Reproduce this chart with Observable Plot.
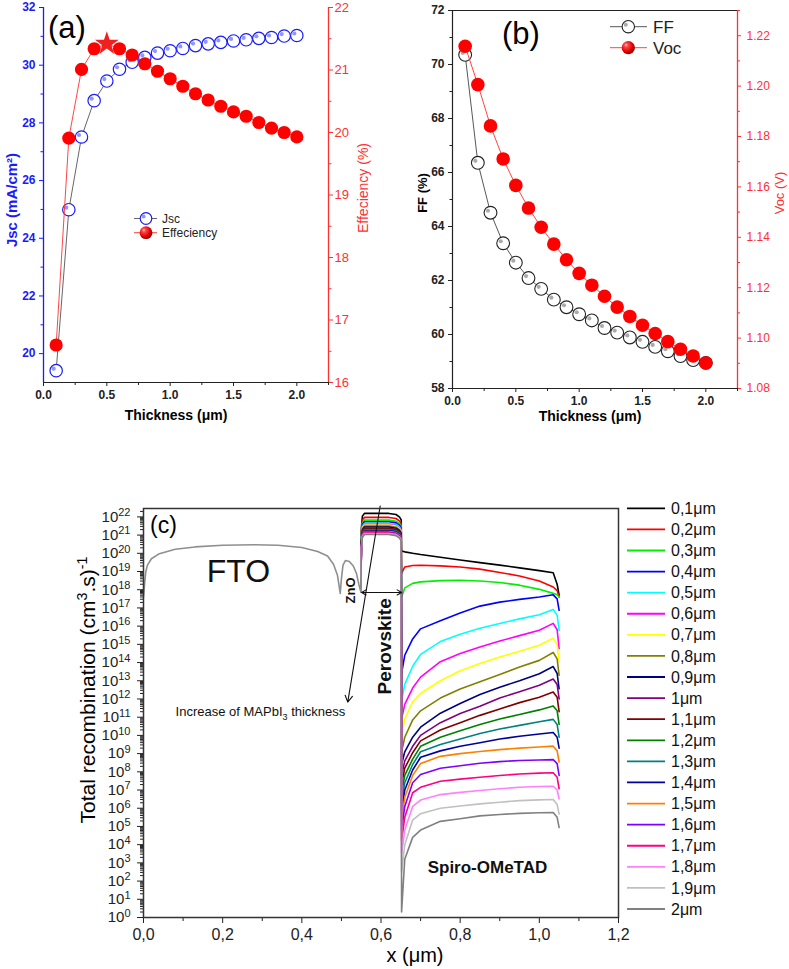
<!DOCTYPE html>
<html><head><meta charset="utf-8">
<script src="https://cdn.jsdelivr.net/npm/d3@7"></script>
<script src="https://cdn.jsdelivr.net/npm/@observablehq/plot@0.6"></script>
<style>
html,body{margin:0;padding:0;background:#fff;overflow:hidden;}
#root{position:relative;width:789px;height:969px;overflow:hidden;background:#fff;}
#root > svg{position:absolute;}
</style></head>
<body>
<svg width="0" height="0" style="position:absolute;left:0;top:0">
<defs>
<radialGradient id="redBall" cx="0.4" cy="0.38" r="0.62" fx="0.32" fy="0.28">
<stop offset="0" stop-color="#ffd6d6"/>
<stop offset="0.22" stop-color="#ff4a4a"/>
<stop offset="0.7" stop-color="#e80000"/>
<stop offset="1" stop-color="#8a0000"/>
</radialGradient>
</defs>
</svg>
<div id="root"></div>
<script>
const FONT = '"Liberation Sans", Arial, Helvetica, sans-serif';
const BLUE = "#1a1aff";
const RED = "#ff3030";

// ---------- Panel (a) / (b) data ----------
const thickness = [0.1,0.2,0.3,0.4,0.5,0.6,0.7,0.8,0.9,1.0,1.1,1.2,1.3,1.4,1.5,1.6,1.7,1.8,1.9,2.0];
const jsc = [19.41,24.99,27.51,28.77,29.45,29.86,30.10,30.27,30.42,30.50,30.58,30.68,30.74,30.79,30.84,30.88,30.93,30.96,31.01,31.03];
const efficiency = [16.60,19.91,21.01,21.34,21.42,21.34,21.24,21.10,20.98,20.86,20.74,20.62,20.52,20.42,20.33,20.26,20.16,20.07,20.00,19.93];
const ff = [70.36,66.36,64.51,63.38,62.66,62.09,61.69,61.29,61.01,60.75,60.52,60.24,60.07,59.89,59.73,59.54,59.38,59.20,59.05,58.95];
const voc = [1.2158,1.2006,1.1842,1.1711,1.1606,1.1516,1.1440,1.1373,1.1311,1.1257,1.1210,1.1166,1.1123,1.1086,1.1051,1.1018,1.0986,1.0956,1.0929,1.0901];

const thicknessTicks = [0,0.5,1,1.5,2];
const thicknessMinor = [0.25,0.75,1.25,1.75,2.25];
const jscTicks = [20,22,24,26,28,30,32];
const jscMinor = [21,23,25,27,29,31];
const effTicks = [16,17,18,19,20,21,22];
const effMinor = [16.5,17.5,18.5,19.5,20.5,21.5];
const ffTicks = [58,60,62,64,66,68,70,72];
const ffMinor = [59,61,63,65,67,69,71];
const vocTicks = [1.08,1.10,1.12,1.14,1.16,1.18,1.20,1.22];
const vocMinor = [1.09,1.11,1.13,1.15,1.17,1.19,1.21,1.23];

// ---------- Panel (c) data ----------
const thicknessLabels = ["0,1μm","0,2μm","0,3μm","0,4μm","0,5μm","0,6μm","0,7μm","0,8μm","0,9μm","1μm","1,1μm","1,2μm","1,3μm","1,4μm","1,5μm","1,6μm","1,7μm","1,8μm","1,9μm","2μm"];
const curveColors = ["#000000","#ff0000","#00ee00","#0000ff","#00ffff","#ff00ff","#ffff00","#808000","#000080","#800080","#800000","#008000","#008080","#0000a0","#ff8000","#8000ff","#ff0080","#ff80ff","#c0c0c0","#808080"];
// log10 level of perovskite block top
const blockLevel = [22.19,21.97,21.82,21.73,21.64,21.58,21.55,21.49,21.44,21.38,21.35,21.31,21.27,21.24,21.20,21.16,21.13,21.09,21.05,21.03];
const blockX = [0.549,0.5505,0.553,0.558,0.62,0.638,0.647,0.651];
const blockOffset = [null,-0.8,-0.15,0,0,-0.06,-0.2,-0.35];
const blockBase = 17.88;
// Spiro-OMeTAD region, log10 values
const spiroX = [0.652,0.66,0.68,0.70,0.75,0.80,0.85,0.90,0.95,1.00,1.035,1.045,1.05];
const spiroLog = [
  [20.12,20.08,20.00,19.93,19.78,19.63,19.49,19.35,19.20,19.05,18.93,18.30,17.70],
  [18.90,19.25,19.33,19.34,19.31,19.25,19.13,18.95,18.75,18.48,18.15,17.95,17.60],
  [17.60,18.10,18.35,18.43,18.50,18.52,18.48,18.40,18.25,18.02,17.80,17.72,17.60],
  [13.40,14.40,15.30,15.85,16.30,16.72,17.10,17.32,17.47,17.60,17.72,17.50,16.87],
  [11.90,12.80,13.80,14.45,15.15,15.55,15.88,16.15,16.40,16.63,16.92,16.60,15.77],
  [10.90,11.70,12.60,13.20,14.05,14.50,14.85,15.18,15.48,15.77,16.15,15.80,14.76],
  [10.00,10.90,11.85,12.30,13.00,13.55,13.95,14.30,14.62,14.95,15.33,15.00,14.03],
  [9.10,9.90,10.85,11.35,12.05,12.55,12.95,13.35,13.75,14.12,14.55,14.20,13.30],
  [8.40,9.10,9.90,10.45,11.22,11.75,12.25,12.65,13.00,13.39,13.78,13.40,12.56],
  [7.80,8.60,9.40,10.00,10.70,11.20,11.60,12.05,12.40,12.75,13.10,12.80,12.00],
  [7.30,8.20,9.05,9.70,10.30,10.70,11.10,11.45,11.80,12.10,12.38,12.10,11.30],
  [6.80,7.80,8.70,9.40,9.90,10.25,10.60,10.90,11.15,11.40,11.62,11.35,10.60],
  [6.30,7.40,8.40,9.10,9.50,9.80,10.10,10.35,10.55,10.75,10.88,10.60,9.90],
  [5.80,7.00,8.10,8.80,9.15,9.40,9.60,9.80,9.95,10.08,10.16,9.90,9.30],
  [5.30,6.60,7.80,8.45,8.85,9.00,9.12,9.22,9.30,9.36,9.41,9.15,8.54],
  [4.80,6.10,7.40,7.85,8.20,8.33,8.47,8.56,8.62,8.65,8.67,8.45,7.80],
  [4.20,5.50,6.85,7.15,7.48,7.60,7.70,7.80,7.88,7.93,7.95,7.70,7.07],
  [3.50,4.80,6.10,6.45,6.75,6.87,6.97,7.07,7.15,7.19,7.21,7.00,6.51],
  [2.50,4.00,5.35,5.70,6.00,6.12,6.24,6.33,6.42,6.46,6.48,6.20,5.68],
  [0.30,3.20,4.40,4.80,5.28,5.42,5.58,5.66,5.72,5.75,5.77,5.50,4.94]
];
// FTO + ZnO region (shared by all curves)
const ftoX = [0.000,0.003,0.006,0.010,0.020,0.040,0.080,0.130,0.200,0.280,0.340,0.400,0.440,0.465,0.480,0.490,0.497,0.500,0.504,0.510,0.520,0.530,0.538,0.544,0.549];
const ftoLog = [17.60,18.40,19.00,19.35,19.70,19.98,20.22,20.35,20.44,20.47,20.44,20.32,20.10,19.85,19.40,18.80,17.80,18.60,19.35,19.60,19.55,19.30,18.90,18.30,17.88];
const xTicksC = [0,0.2,0.4,0.6,0.8,1.0,1.2];
const xMinorC = [0.1,0.3,0.5,0.7,0.9,1.1];

const root = document.getElementById("root");

function place(svg, left, top) {
  svg.style.left = left + "px";
  svg.style.top = top + "px";
  root.appendChild(svg);
  return svg;
}
// text with optional superscripts
function addLabel(svg, x, y, parts, o = {}) {
  const size = o.size || 14;
  const t = d3.select(svg).append("text")
    .attr("transform", `translate(${x},${y}) rotate(${o.rotate || 0})`)
    .attr("text-anchor", o.anchor || "middle")
    .attr("font-family", FONT)
    .attr("font-size", size)
    .attr("font-weight", o.weight || "normal")
    .attr("fill", o.fill || "#000")
    .attr("dy", "0.35em");
  let raised = false;
  for (const p of (typeof parts === "string" ? [parts] : parts)) {
    if (typeof p === "string") {
      const s = t.append("tspan").text(p);
      if (raised) { s.attr("dy", (0.42 * size) + "px"); raised = false; }
    } else {
      t.append("tspan").attr("dy", (-0.42 * size) + "px").attr("font-size", 0.68 * size).text(p.sup);
      raised = true;
    }
  }
  return t;
}
function sphereFill(svg) {
  d3.select(svg).selectAll('g[aria-label="sphere"]').attr("fill", "url(#redBall)");
  d3.select(svg).selectAll('g[aria-label="sphere"] circle').attr("fill", "url(#redBall)");
}

// ================= Panel (a) =================
const rowsA = thickness.map((t, i) => ({t, jsc: jsc[i], eff: efficiency[i], best: efficiency[i] === d3.max(efficiency)}));
const dimA = {width: 390, height: 430, marginLeft: 43, marginRight: 62, marginTop: 7, marginBottom: 48,
  style: {fontFamily: FONT, background: "transparent", overflow: "visible"}};

const pA1 = Plot.plot({
  ...dimA,
  x: {domain: [0, 2.25]},
  y: {domain: [19, 32]},
  marks: [
    Plot.axisX({ticks: thicknessTicks, tickSize: 4, tickPadding: 4, fontSize: 12, fontWeight: "bold", tickFormat: d => d.toFixed(1), label: null, color: "#222"}),
    Plot.axisX({ticks: thicknessMinor, tickSize: 3, tickFormat: () => "", label: null, color: "#222"}),
    Plot.axisY({ticks: jscTicks, tickSize: 4, tickPadding: 4, fontSize: 12, fontWeight: "bold", tickFormat: d => d.toFixed(0), label: null, color: BLUE}),
    Plot.axisY({ticks: jscMinor, tickSize: 2.5, tickFormat: () => "", label: null, color: BLUE}),
    Plot.ruleY([19], {stroke: "#222", strokeWidth: 1.2}),
    Plot.ruleX([0], {stroke: BLUE, strokeWidth: 1.3}),
    Plot.line(rowsA, {x: "t", y: "jsc", stroke: "#555", strokeWidth: 0.9}),
    Plot.dot(rowsA, {x: "t", y: "jsc", r: 6.2, stroke: BLUE, strokeWidth: 1.2, fill: "white"}),
    Plot.dot(rowsA, {x: "t", y: "jsc", r: 2.1, fill: "#8f96ff", dx: -2.5, dy: -2})
  ]
});
place(pA1, 0, 0);

const pA2 = Plot.plot({
  ...dimA,
  x: {domain: [0, 2.25], axis: null},
  y: {domain: [16, 22]},
  marks: [
    Plot.axisY({anchor: "right", ticks: effTicks, tickSize: 4, tickPadding: 2, fontSize: 13, tickFormat: d => d.toFixed(0), label: null, color: RED}),
    Plot.axisY({anchor: "right", ticks: effMinor, tickSize: 2.5, tickFormat: () => "", label: null, color: RED}),
    Plot.ruleX([2.25], {stroke: RED, strokeWidth: 1.3}),
    Plot.line(rowsA, {x: "t", y: "eff", stroke: RED, strokeWidth: 0.9}),
    Plot.dot(rowsA.filter(d => !d.best), {x: "t", y: "eff", r: 6.6, fill: "#ff0000", ariaLabel: "sphere"}),
    Plot.dot(rowsA.filter(d => d.best), {x: "t", y: "eff", r: 7.5, symbol: "star", fill: "#f02020"})
  ]
});
place(pA2, 0, 0);
sphereFill(pA2);
// labels & legend (a)
addLabel(pA2, 48, 27, "(a)", {size: 31, anchor: "start"});
addLabel(pA2, 12, 200, "Jsc (mA/cm²)", {size: 15, weight: "bold", fill: BLUE, rotate: -90});
addLabel(pA2, 363, 188, "Effeciency (%)", {size: 14, fill: RED, rotate: -90});
addLabel(pA2, 176, 415, "Thickness (μm)", {size: 14, weight: "bold"});
{
  const g = d3.select(pA2).append("g");
  g.append("line").attr("x1", 134).attr("x2", 157).attr("y1", 218.5).attr("y2", 218.5).attr("stroke", "#555").attr("stroke-width", 0.9);
  g.append("circle").attr("cx", 146).attr("cy", 218.5).attr("r", 5.8).attr("fill", "white").attr("stroke", BLUE).attr("stroke-width", 1.2);
  g.append("circle").attr("cx", 143.6).attr("cy", 216.6).attr("r", 2).attr("fill", "#8f96ff");
  g.append("line").attr("x1", 134).attr("x2", 157).attr("y1", 232.7).attr("y2", 232.7).attr("stroke", RED).attr("stroke-width", 0.9);
  g.append("circle").attr("cx", 146).attr("cy", 232.7).attr("r", 6.4).attr("fill", "url(#redBall)");
  addLabel(pA2, 162, 218.5, "Jsc", {size: 12, anchor: "start", fill: "#222"});
  addLabel(pA2, 162, 232.7, "Effeciency", {size: 12, anchor: "start", fill: "#222"});
}

// ================= Panel (b) =================
const rowsB = thickness.map((t, i) => ({t, ff: ff[i], voc: voc[i]}));
const dimB = {width: 399, height: 430, marginLeft: 62, marginRight: 52, marginTop: 10, marginBottom: 42,
  style: {fontFamily: FONT, background: "transparent", overflow: "visible"}};
const pB1 = Plot.plot({
  ...dimB,
  x: {domain: [0, 2.25]},
  y: {domain: [58, 72]},
  marks: [
    Plot.axisX({ticks: thicknessTicks, tickSize: 4, tickPadding: 4, fontSize: 12, fontWeight: "bold", tickFormat: d => d.toFixed(1), label: null, color: "#222"}),
    Plot.axisX({ticks: thicknessMinor, tickSize: 3, tickFormat: () => "", label: null, color: "#222"}),
    Plot.axisY({ticks: ffTicks, tickSize: 4, tickPadding: 4, fontSize: 12, fontWeight: "bold", tickFormat: d => d.toFixed(0), label: null, color: "#222"}),
    Plot.axisY({ticks: ffMinor, tickSize: 2.5, tickFormat: () => "", label: null, color: "#222"}),
    Plot.ruleY([58], {stroke: "#222", strokeWidth: 1.2}),
    Plot.ruleY([72], {stroke: "#222", strokeWidth: 1.2}),
    Plot.ruleX([0], {stroke: "#222", strokeWidth: 1.2}),
    Plot.line(rowsB, {x: "t", y: "ff", stroke: "#444", strokeWidth: 0.9}),
    Plot.dot(rowsB, {x: "t", y: "ff", r: 6.4, stroke: "#222", strokeWidth: 1.1, fill: "white"}),
    Plot.dot(rowsB, {x: "t", y: "ff", r: 2.1, fill: "#aaaaaa", dx: -2.5, dy: -2})
  ]
});
place(pB1, 390, 0);
const pB2 = Plot.plot({
  ...dimB,
  x: {domain: [0, 2.25], axis: null},
  y: {domain: [1.08, 1.23]},
  marks: [
    Plot.axisY({anchor: "right", ticks: vocTicks, tickSize: 3, tickPadding: 6, fontSize: 12, tickFormat: d => d.toFixed(2), label: null, color: RED}),
    Plot.axisY({anchor: "right", ticks: vocMinor, tickSize: 2, tickFormat: () => "", label: null, color: RED}),
    Plot.ruleX([2.25], {stroke: RED, strokeWidth: 1.3}),
    Plot.line(rowsB, {x: "t", y: "voc", stroke: RED, strokeWidth: 0.9}),
    Plot.dot(rowsB, {x: "t", y: "voc", r: 6.8, fill: "#ff0000", ariaLabel: "sphere"})
  ]
});
place(pB2, 390, 0);
sphereFill(pB2);
addLabel(pB2, 112, 33, "(b)", {size: 31, anchor: "start"});
addLabel(pB2, 32, 193, "FF (%)", {size: 13, weight: "bold", rotate: -90});
addLabel(pB2, 389, 193, "Voc (V)", {size: 13, fill: RED, rotate: -90});
addLabel(pB2, 200, 416, "Thickness (μm)", {size: 14, weight: "bold"});
{
  const g = d3.select(pB2).append("g");
  g.append("line").attr("x1", 220).attr("x2", 257).attr("y1", 26.7).attr("y2", 26.7).attr("stroke", "#444").attr("stroke-width", 0.9);
  g.append("circle").attr("cx", 238.3).attr("cy", 26.7).attr("r", 6.2).attr("fill", "white").attr("stroke", "#222").attr("stroke-width", 1.1);
  g.append("circle").attr("cx", 235.8).attr("cy", 24.7).attr("r", 2).attr("fill", "#aaaaaa");
  g.append("line").attr("x1", 220).attr("x2", 257).attr("y1", 47.7).attr("y2", 47.7).attr("stroke", RED).attr("stroke-width", 0.9);
  g.append("circle").attr("cx", 238.3).attr("cy", 47.7).attr("r", 6.6).attr("fill", "url(#redBall)");
  addLabel(pB2, 263, 26.7, "FF", {size: 17, anchor: "start", fill: "#222"});
  addLabel(pB2, 263, 47.7, "Voc", {size: 17, anchor: "start", fill: "#222"});
}

// ================= Panel (c) =================
const curves = thicknessLabels.map((label, i) => {
  const pts = [];
  blockX.forEach((x, j) => pts.push({x, v: blockOffset[j] === null ? blockBase : blockLevel[i] + blockOffset[j]}));
  spiroX.forEach((x, j) => pts.push({x, v: spiroLog[i][j]}));
  return pts.map(p => ({x: p.x, y: Math.pow(10, p.v)}));
});
const ftoRows = ftoX.map((x, i) => ({x, y: Math.pow(10, ftoLog[i])}));
const yTop = Math.pow(10, 22.46);
const yMajorC = d3.range(0, 23).map(e => Math.pow(10, e));
const yMinorC = [];
for (let e = 0; e <= 22; e++) for (let k = 2; k <= 9; k++) { const v = k * Math.pow(10, e); if (v <= yTop) yMinorC.push(v); }

const annotations = [
  {x: 0.24, v: 18.98, text: "FTO", size: 32, weight: "normal", rotate: 0, anchor: "middle"},
  {x: 0.523, v: 17.96, text: "ZnO", size: 13, weight: "bold", rotate: -90, anchor: "middle"},
  {x: 0.609, v: 14.89, text: "Perovskite", size: 19, weight: "bold", rotate: -90, anchor: "middle"},
  {x: 0.869, v: 2.74, text: "Spiro-OMeTAD", size: 17, weight: "bold", rotate: 0, anchor: "middle"},
  {x: 0.081, v: 11.31, text: "Increase of MAPbI3 thickness", size: 13, weight: "normal", rotate: 0, anchor: "start"}
];
const arrowsC = [
  {x1: 0.598, v1: 22.6, x2: 0.516, v2: 11.83, head: 10},
  {x1: 0.60, v1: 17.85, x2: 0.551, v2: 17.85, head: 7},
  {x1: 0.60, v1: 17.85, x2: 0.652, v2: 17.85, head: 7}
];

const pC = Plot.plot({
  width: 789, height: 479, marginLeft: 143, marginRight: 171, marginTop: 18, marginBottom: 52,
  style: {fontFamily: FONT, background: "transparent", overflow: "visible"},
  x: {domain: [0, 1.2]},
  y: {type: "log", domain: [1, yTop]},
  marks: [
    Plot.axisY({ticks: yMajorC, tickSize: 6, tickPadding: 7, fontSize: 15, tickFormat: d => "10^" + Math.round(Math.log10(d)), label: null, color: "#222"}),
    Plot.axisY({ticks: yMinorC, tickSize: 3, tickFormat: () => "", label: null, color: "#222"}),
    Plot.axisX({ticks: xTicksC, tickSize: 6, tickPadding: 5, fontSize: 16, tickFormat: d => d.toFixed(1).replace(".", ","), label: null, color: "#222"}),
    Plot.axisX({ticks: xMinorC, tickSize: 4, tickFormat: () => "", label: null, color: "#222"}),
    ...curves.map((c, i) => Plot.line(c, {x: "x", y: "y", stroke: curveColors[i], strokeWidth: 1.6})),
    Plot.line(ftoRows, {x: "x", y: "y", stroke: "#8f8f8f", strokeWidth: 1.6}),
    ...arrowsC.map(a => Plot.arrow([a], {x1: "x1", y1: d => Math.pow(10, d.v1), x2: "x2", y2: d => Math.pow(10, d.v2), stroke: "#111", strokeWidth: 1.1, headLength: a.head})),
    ...annotations.map(a => Plot.text([a], {x: "x", y: d => Math.pow(10, d.v), text: "text", fontSize: a.size, fontWeight: a.weight, rotate: a.rotate, textAnchor: a.anchor, fill: "#111"})),
    Plot.frame({stroke: "#333", strokeWidth: 1.5})
  ]
});
place(pC, 0, 490);

// superscript tick labels
d3.select(pC).selectAll('g[aria-label="y-axis tick label"] text').each(function () {
  const m = this.textContent.match(/^10\^(\d+)$/);
  if (!m) return;
  const el = d3.select(this);
  el.text(null);
  el.append("tspan").text("10");
  el.append("tspan").attr("dy", "-0.5em").attr("font-size", "11px").text(m[1]);
});
// subscript in MAPbI3
d3.select(pC).selectAll("text").each(function () {
  if (this.textContent !== "Increase of MAPbI3 thickness") return;
  const el = d3.select(this);
  el.text(null);
  el.append("tspan").text("Increase of MAPbI");
  el.append("tspan").attr("dy", "4px").attr("font-size", "9px").text("3");
  el.append("tspan").attr("dy", "-4px").text(" thickness");
});

addLabel(pC, 150, 35, "(c)", {size: 23, anchor: "start"});
addLabel(pC, 88, 200, ["Total recombination (cm", {sup: "3"}, ".s)", {sup: "-1"}], {size: 21, rotate: -90});
addLabel(pC, 415, 465, "x (μm)", {size: 20});
{
  const g = d3.select(pC).append("g");
  thicknessLabels.forEach((lab, i) => {
    const y = 18.3 + i * 21.09;
    g.append("line").attr("x1", 627).attr("x2", 665).attr("y1", y).attr("y2", y).attr("stroke", curveColors[i]).attr("stroke-width", 1.8);
    addLabel(pC, 671, y, lab, {size: 16, anchor: "start", fill: "#111"});
  });
}
</script>
</body></html>
